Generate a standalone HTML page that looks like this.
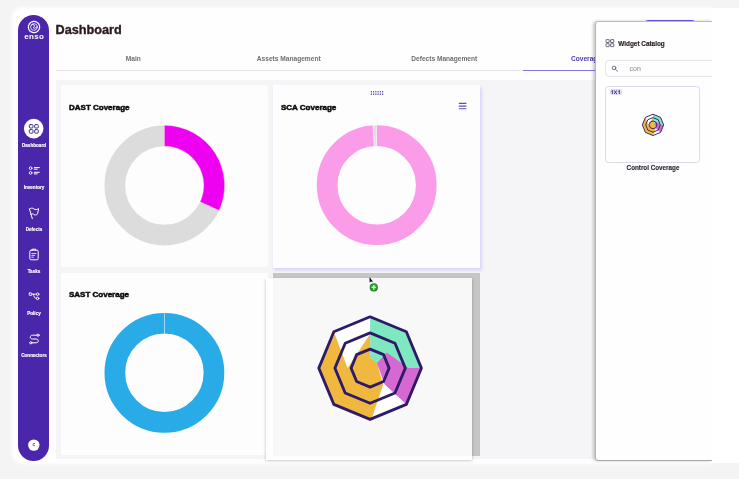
<!DOCTYPE html>
<html>
<head>
<meta charset="utf-8">
<style>
*{box-sizing:border-box;margin:0;padding:0}
html,body{width:739px;height:479px;overflow:hidden;background:#f4f4f4;font-family:"Liberation Sans",sans-serif;}
.abs{position:absolute}
#app{left:13.4px;top:7.8px;width:698.6px;height:454.8px;background:#fefefe;border-radius:11px 0 0 11px;box-shadow:-1px 0 3px 0.5px rgba(255,255,255,0.85)}
#right{left:712px;top:7.8px;width:27px;height:454.8px;background:#ffffff}
#side{left:18px;top:15px;width:31px;height:446px;background:#4a26ab;border-radius:15.5px}
.lbl{-webkit-text-stroke:0.15px #fff;color:#fff;font-weight:bold;font-size:4.6px;text-align:center;width:40px;left:14px;line-height:6px;white-space:nowrap}
#title{left:55.5px;top:21.9px;font-size:12.7px;-webkit-text-stroke:0.35px #2a1a20;font-weight:bold;color:#2a1a20;line-height:16px;white-space:nowrap}
.tab{top:54px;width:155.5px;text-align:center;font-size:6.6px;color:#6e6e70;line-height:9px;font-weight:bold;white-space:nowrap}
#tabline{left:55.5px;top:69.8px;width:660px;height:1.3px;background:#e6e6ec}
#dash{left:55.5px;top:79.7px;width:656.5px;height:379.8px;background:#f5f5f7}
.card{background:#fdfdfe;}
.ctitle{-webkit-text-stroke:0.5px #0d090c;font-size:8px;font-weight:bold;color:#0d090c;margin-top:0.5px;line-height:10px;white-space:nowrap}
</style>
</head>
<body>
<div id="root" style="position:absolute;left:0;top:0;width:739px;height:479px;will-change:transform;transform:translateZ(0)">
<div id="app" class="abs"></div>
<div id="right" class="abs"></div>

<!-- header -->
<div id="title" class="abs">Dashboard</div>
<div class="tab abs" style="left:55.5px">Main</div>
<div class="tab abs" style="left:211px">Assets Management</div>
<div class="tab abs" style="left:366.5px">Defects Management</div>
<div class="tab abs" style="left:571px;width:auto;text-align:left;color:#4b3bb5">Coverage</div>
<div id="tabline" class="abs"></div>
<div class="abs" style="left:523px;top:69.6px;width:156px;height:1.5px;background:#8577ea"></div>

<!-- dashboard area -->
<div id="dash" class="abs"></div>
<div class="card abs" style="left:61px;top:85px;width:207px;height:182px"></div>
<div class="card abs" style="left:273px;top:85px;width:207px;height:182.5px;box-shadow:1.5px 2px 3px 0.5px #dad5f7"></div>
<div class="card abs" style="left:61px;top:273px;width:207px;height:182px"></div>
<div class="abs" style="left:273px;top:273px;width:207px;height:182.5px;background:#c6c6c6"></div>

<div class="ctitle abs" style="left:69px;top:102px">DAST Coverage</div>
<div class="ctitle abs" style="left:281px;top:102px">SCA Coverage</div>
<div class="ctitle abs" style="left:69px;top:289.5px">SAST Coverage</div>

<!-- donuts -->
<svg class="abs" style="left:0;top:0" width="739" height="479" viewBox="0 0 739 479">
  <!-- DAST -->
  <circle cx="164.4" cy="185.5" r="49.55" fill="none" stroke="#dcdcdc" stroke-width="20.7"/>
  <path d="M164.40 125.30 A60.2 60.2 0 0 1 219.14 210.56 L200.13 201.86 A39.3 39.3 0 0 0 164.40 146.20 Z" fill="#ee00f0" stroke="#fbe8fb" stroke-width="0.4"/>
  <!-- SCA -->
  <circle cx="376.7" cy="185.2" r="49.55" fill="none" stroke="#fb9ce9" stroke-width="20.7"/>
  <path d="M373.12 125.01 L376.33 124.90 L376.46 146.40 L374.40 146.47 Z" fill="#dcdcdc" stroke="#fff" stroke-width="0.75"/>
  <!-- SAST -->
  <circle cx="164.4" cy="372.8" r="49.55" fill="none" stroke="#29abe8" stroke-width="20.7"/>
  <rect x="164.15" y="312.6" width="0.7" height="21.2" fill="#d4eefb"/>
</svg>

<!-- sidebar -->
<div id="side" class="abs"></div>
<svg class="abs" style="left:0;top:0" width="739" height="479" viewBox="0 0 739 479" fill="none" stroke-linecap="round" stroke-linejoin="round">
  <!-- enso logo -->
  <g stroke="#fff" stroke-width="0.9">
    <circle cx="34" cy="27" r="5.6" stroke-width="1.3" stroke-dasharray="1.1 0.7"/>
    <circle cx="34" cy="27" r="3.4" stroke-width="0.8"/>
    <path d="M31.6 25.2 q1.2 -1.6 2.6 -0.2 q0.6 1.6 -1 2.8 q1.6 1.4 3.4 -0.6" stroke-width="0.9"/>
  </g>
  <!-- dashboard active -->
  <circle cx="33.7" cy="128.6" r="9.8" fill="#fff"/>
  <g stroke="#3b2a80" stroke-width="0.95">
    <rect x="29.3" y="124.6" width="3.7" height="3.4" rx="1"/>
    <rect x="34.6" y="124.6" width="3.7" height="3.4" rx="1"/>
    <rect x="29.3" y="129.6" width="3.7" height="3.6" rx="1"/>
    <rect x="34.6" y="129.6" width="3.7" height="3.6" rx="1"/>
  </g>
  <!-- inventory -->
  <g stroke="#fff" stroke-width="0.9">
    <circle cx="30.6" cy="168.2" r="1.35"/>
    <circle cx="30.6" cy="172.9" r="1.35"/>
    <path d="M34.3 167.6 H39.3 M34.3 169.2 H37.2 M34.3 172.3 H39.3 M34.3 173.9 H37.2" stroke-width="1"/>
  </g>
  <!-- defects flag -->
  <g stroke="#fff" stroke-width="1">
    <path d="M29.4 208.8 L32.3 218.6"/>
    <path d="M29.5 209.3 C30.8 207.6 32.6 207.8 33.8 208.8 C35.2 210 37 209.6 38.7 208.7 L37.5 213.9 C36 215.6 34.4 215 33.4 214.2 C32.6 213.6 31.8 213.8 30.9 214.3"/>
  </g>
  <!-- tasks clipboard -->
  <g stroke="#fff" stroke-width="1">
    <rect x="29.8" y="250.2" width="8.4" height="9.6" rx="1.3"/>
    <path d="M32.2 250.2 V249.2 H35.8 V250.2" />
    <path d="M31.8 253.6 H36 M31.8 255.4 H34.6 M31.8 257.2 H33.4" stroke-width="0.8"/>
  </g>
  <!-- policy -->
  <g stroke="#fff" stroke-width="0.9">
    <rect x="29.2" y="293" width="2.6" height="2.4" rx="0.5"/>
    <circle cx="37.6" cy="294.2" r="1.3"/>
    <circle cx="37.6" cy="298.4" r="1.3"/>
    <path d="M31.8 294.2 H36.3 M33.6 294.2 C33.8 296.6 34.4 298.4 36.3 298.4"/>
  </g>
  <!-- connectors -->
  <g stroke="#fff" stroke-width="1">
    <path d="M36.8 335.2 H32.4 C29.6 335.2 29.6 339 32.4 339 H36.2 C39 339 39 342.8 36.2 342.8 H32"/>
    <circle cx="38" cy="335.2" r="1.1"/>
    <circle cx="30.8" cy="342.8" r="1.1"/>
  </g>
  <!-- avatar -->
  <circle cx="33.8" cy="445.1" r="5.7" fill="#fff"/>
</svg>
<div class="abs" style="left:14px;width:40px;top:32.8px;text-align:center;color:#fff;font-weight:bold;font-size:8px;line-height:8px;letter-spacing:0.3px;padding-left:0.3px">enso</div>
<div class="lbl abs" style="top:143.1px">Dashboard</div>
<div class="lbl abs" style="top:185.1px">Inventory</div>
<div class="lbl abs" style="top:227.1px">Defects</div>
<div class="lbl abs" style="top:269.1px">Tasks</div>
<div class="lbl abs" style="top:311.1px">Policy</div>
<div class="lbl abs" style="top:353.1px">Connectors</div>
<div class="abs" style="left:28.8px;width:10px;top:442px;text-align:center;color:#3a3040;font-weight:bold;font-size:4.6px;line-height:6px">c</div>

<!-- dragged ghost -->
<div class="abs" style="left:266px;top:278px;width:206.3px;height:182px;background:rgba(255,255,255,0.88);box-shadow:0 0.5px 3px rgba(0,0,0,0.28)"></div>
<svg class="abs" style="left:0;top:0" width="739" height="479" viewBox="0 0 739 479">
<defs><g id="LOGO">
<polygon points="0.00,-51.30 36.27,-36.27 51.30,-0.00 36.27,36.27 0.00,51.30 -36.27,36.27 -51.30,0.00 -36.27,-36.27" fill="#fff"/>
<polygon points="0.00,-51.30 36.27,-36.27 51.30,-0.00 0.00,0.00" fill="#7fe8c1"/>
<polygon points="16.80,-15.60 38.10,0.00 51.30,-0.00 36.27,36.27 14.40,16.20 6.90,-5.10" fill="#d569d1"/>
<polygon points="0.00,-34.00 -22.50,0.00 -36.27,-36.27 -51.30,0.00 -36.27,36.27 0.00,51.30 1.50,51.00 13.00,16.60 6.90,-5.10 0.00,-10.00" fill="#f0b83f"/>
<g fill="none" stroke="#2d1a6b" stroke-width="2.8" stroke-linejoin="round">
<polygon points="0.00,-51.30 36.27,-36.27 51.30,-0.00 36.27,36.27 0.00,51.30 -36.27,36.27 -51.30,0.00 -36.27,-36.27"/>
<polygon points="0.00,-35.20 24.89,-24.89 35.20,-0.00 24.89,24.89 0.00,35.20 -24.89,24.89 -35.20,0.00 -24.89,-24.89"/>
<polygon points="0.00,-19.00 13.44,-13.44 19.00,-0.00 13.44,13.44 0.00,19.00 -13.44,13.44 -19.00,0.00 -13.44,-13.44"/>
</g>
</g>
<g id="LOGO2">
<polygon points="0.00,-51.30 36.27,-36.27 51.30,-0.00 36.27,36.27 0.00,51.30 -36.27,36.27 -51.30,0.00 -36.27,-36.27" fill="#fff"/>
<polygon points="0.00,-51.30 36.27,-36.27 51.30,-0.00 0.00,0.00" fill="#7fe8c1"/>
<polygon points="16.80,-15.60 38.10,0.00 51.30,-0.00 36.27,36.27 14.40,16.20 6.90,-5.10" fill="#d569d1"/>
<polygon points="0.00,-34.00 -22.50,0.00 -36.27,-36.27 -51.30,0.00 -36.27,36.27 0.00,51.30 1.50,51.00 13.00,16.60 6.90,-5.10 0.00,-10.00" fill="#f0b83f"/>
<g fill="none" stroke="#2d1a6b" stroke-width="4.4" stroke-linejoin="round">
<polygon points="0.00,-51.30 36.27,-36.27 51.30,-0.00 36.27,36.27 0.00,51.30 -36.27,36.27 -51.30,0.00 -36.27,-36.27"/>
<polygon points="0.00,-35.20 24.89,-24.89 35.20,-0.00 24.89,24.89 0.00,35.20 -24.89,24.89 -35.20,0.00 -24.89,-24.89"/>
<polygon points="0.00,-19.00 13.44,-13.44 19.00,-0.00 13.44,13.44 0.00,19.00 -13.44,13.44 -19.00,0.00 -13.44,-13.44"/>
</g>
</g></defs>
<use href="#LOGO" transform="translate(370.1 368.1)"/>
</svg>

<!-- right panel -->
<div class="abs" style="left:644.5px;top:19.5px;width:50.5px;height:8px;background:#6a5ce6;border-radius:3px"></div>
<div class="abs" style="left:594.5px;top:20.8px;width:117.5px;height:440px;background:#fefefe;border:1px solid #b4b4b8;border-right:none;border-top-color:#b9b2f3;border-bottom-color:#a8a8ac;border-radius:3.5px 0 0 3.5px;box-shadow:-2px 0 3px rgba(0,0,0,0.2)"></div>
<div class="abs" style="left:712px;top:7.8px;width:27px;height:454.8px;background:#fff"></div>
<div class="abs" style="left:605.2px;top:85.8px;width:94.8px;height:77px;border:1px solid #dcd9f1;border-radius:3.5px;background:#fefefe"></div>
<div class="abs" style="left:609.5px;top:88.7px;width:12.8px;height:6.8px;border-radius:2.2px;background:#dedafa;color:#241d5c;font-size:5px;font-weight:bold;line-height:7.2px;text-align:center"></div>
<svg class="abs" style="left:0;top:0" width="739" height="479" viewBox="0 0 739 479" fill="none">
  <g stroke="#3a3050" stroke-width="0.7">
    <rect x="606" y="39.6" width="3.2" height="2.9" rx="0.35"/>
    <rect x="610.6" y="39.6" width="3.2" height="2.9" rx="0.35"/>
    <rect x="606" y="43.7" width="3.2" height="2.9" rx="0.35"/>
    <rect x="610.6" y="43.7" width="3.2" height="2.9" rx="0.35"/>
  </g>
  <g stroke="#5c5c66" stroke-width="0.85" stroke-linecap="round">
    <circle cx="614" cy="67.9" r="1.8"/>
    <path d="M615.5 69.4 L617.6 71.3"/>
  </g>
  <path d="M611.4 91.3 L612.4 90.4 V94 M614.1 90.4 L616.9 94 M616.9 90.4 L614.1 94 M618.4 91.3 L619.4 90.4 V94" stroke="#241d5c" stroke-width="0.8" fill="none" stroke-linejoin="round"/>
  <use href="#LOGO2" transform="translate(653 124.9) scale(0.208)"/>
</svg>
<div class="abs" style="left:618.3px;top:38.6px;-webkit-text-stroke:0.15px #231a22;font-size:6.4px;font-weight:bold;color:#231a22;line-height:9px;white-space:nowrap">Widget Catalog</div>
<div class="abs" style="left:605.4px;top:60px;width:120px;height:17px;border:1px solid #e4e4ea;border-radius:4px"></div>
<div class="abs" style="left:712px;top:58px;width:27px;height:20px;background:#fff"></div>
<div class="abs" style="left:629.5px;top:63.8px;font-size:7px;color:#85858c;line-height:9px">con</div>
<div class="abs" style="left:603px;width:100px;top:163.1px;text-align:center;-webkit-text-stroke:0.12px #2b2430;font-size:6.3px;font-weight:bold;color:#2b2430;line-height:9px;white-space:nowrap">Control Coverage</div>

<!-- SCA card controls -->
<svg class="abs" style="left:0;top:0" width="739" height="479" viewBox="0 0 739 479">
  <g fill="#3f3796">
<rect x="370.80" y="91.10" width="1.1" height="0.9"/><rect x="373.05" y="91.10" width="1.1" height="0.9"/><rect x="375.30" y="91.10" width="1.1" height="0.9"/><rect x="377.55" y="91.10" width="1.1" height="0.9"/><rect x="379.80" y="91.10" width="1.1" height="0.9"/><rect x="382.05" y="91.10" width="1.1" height="0.9"/><rect x="370.80" y="92.60" width="1.1" height="0.9"/><rect x="373.05" y="92.60" width="1.1" height="0.9"/><rect x="375.30" y="92.60" width="1.1" height="0.9"/><rect x="377.55" y="92.60" width="1.1" height="0.9"/><rect x="379.80" y="92.60" width="1.1" height="0.9"/><rect x="382.05" y="92.60" width="1.1" height="0.9"/><rect x="370.80" y="94.10" width="1.1" height="0.9"/><rect x="373.05" y="94.10" width="1.1" height="0.9"/><rect x="375.30" y="94.10" width="1.1" height="0.9"/><rect x="377.55" y="94.10" width="1.1" height="0.9"/><rect x="379.80" y="94.10" width="1.1" height="0.9"/><rect x="382.05" y="94.10" width="1.1" height="0.9"/>
</g>
  <g stroke="#5a4fbf" stroke-width="1.1" stroke-linecap="butt">
    <path d="M458.8 103.4 H466.4 M458.8 106.1 H466.4 M458.8 108.8 H466.4"/>
  </g>
  <!-- cursor -->
  <defs><radialGradient id="gp" cx="0.5" cy="0.45" r="0.55"><stop offset="0" stop-color="#48b548"/><stop offset="0.7" stop-color="#2c962c"/><stop offset="1" stop-color="#1d6f1d"/></radialGradient></defs>
  <path d="M369.8 277.8 L369.9 282.2 L370.9 281.3 L372.6 281.6 Z" fill="#111" stroke="#111" stroke-width="0.5" stroke-linejoin="round"/>
  <circle cx="373.8" cy="287.4" r="4.1" fill="url(#gp)"/>
  <path d="M371.5 287.4 H376.1 M373.8 285.1 V289.7" stroke="#d8f5d0" stroke-width="1.3"/>
</svg>

</div>
</body>
</html>
